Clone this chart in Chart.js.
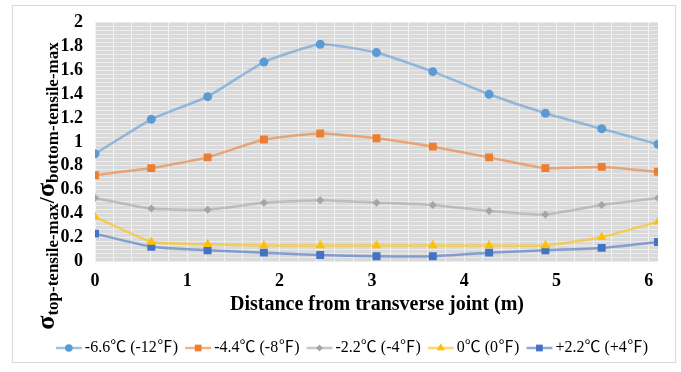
<!DOCTYPE html>
<html>
<head>
<meta charset="utf-8">
<script src="https://cdn.jsdelivr.net/npm/chart.js@4/dist/chart.umd.min.js"></script>
<style>
  html, body { margin: 0; padding: 0; background: #fff; }
  #stress-chart { display: block; }
</style>
</head>
<body>
<canvas id="stress-chart" width="681" height="372"></canvas>
<script>
// distance from the joint, m (2 ft steps)
const distances = [0, 0.61, 1.22, 1.83, 2.44, 3.05, 3.66, 4.27, 4.88, 5.49, 6.1];

const seriesNames = ['-6.6℃ (-12℉)', '-4.4℃ (-8℉)', '-2.2℃ (-4℉)', '0℃ (0℉)', '+2.2℃ (+4℉)'];

const minus66 = [0.90, 1.19, 1.38, 1.67, 1.82, 1.75, 1.59, 1.40, 1.24, 1.11, 0.98];
const minus44 = [0.72, 0.78, 0.87, 1.02, 1.07, 1.03, 0.96, 0.87, 0.78, 0.79, 0.75];
const minus22 = [0.53, 0.44, 0.43, 0.49, 0.51, 0.49, 0.47, 0.42, 0.39, 0.47, 0.53];
const zeroC = [0.37, 0.16, 0.14, 0.13, 0.13, 0.13, 0.13, 0.13, 0.13, 0.20, 0.33];
const plus22 = [0.23, 0.12, 0.09, 0.07, 0.05, 0.04, 0.04, 0.07, 0.09, 0.11, 0.16];

const xTickLabels = ['0', '1', '2', '3', '4', '5', '6'];
const yTickLabels = ['0', '0.2', '0.4', '0.6', '0.8', '1', '1.2', '1.4', '1.6', '1.8', '2'];

const serif = '"Liberation Serif", "Times New Roman", "Noto Sans CJK SC", serif';

const styles = [
  { line: 'rgba(91,155,213,0.6)', fill: '#5B9BD5', point: 'circle', r: 4.5 },
  { line: 'rgba(237,125,49,0.6)', fill: '#ED7D31', point: 'rect', r: 5.6 },
  { line: 'rgba(165,165,165,0.6)', fill: '#A5A5A5', point: 'rectRot', r: 4 },
  { line: 'rgba(255,192,0,0.6)', fill: '#FFC000', point: 'triangle', r: 5.5 },
  { line: 'rgba(68,114,196,0.6)', fill: '#4472C4', point: 'rect', r: 5.6 },
];
const seriesValues = [minus66, minus44, minus22, zeroC, plus22];

const datasets = seriesValues.map((vals, i) => ({
  label: seriesNames[i],
  data: vals.map((v, k) => ({ x: distances[k], y: v })),
  borderColor: styles[i].line,
  backgroundColor: styles[i].fill,
  pointBackgroundColor: styles[i].fill,
  pointBorderColor: styles[i].fill,
  pointBorderWidth: 0,
  pointStyle: styles[i].point,
  pointRadius: styles[i].r,
  borderWidth: 2.5,
  tension: 0.15,
}));

// grid steps
const xGrid = [];
for (let k = 0; k <= 30; k++) xGrid.push(Math.round(k * 0.2 * 100) / 100);
const yGrid = [];
for (let k = 0; k <= 60; k++) yGrid.push(k / 30);

const frame = {
  id: 'frame',
  beforeDraw(chart) {
    const ctx = chart.ctx;
    const a = chart.chartArea;
    ctx.save();
    ctx.fillStyle = '#fff';
    ctx.fillRect(0, 0, chart.width, chart.height);
    ctx.strokeStyle = '#d9d9d9';
    ctx.lineWidth = 1;
    ctx.strokeRect(12.5, 5.5, 663, 357);
    ctx.fillStyle = '#d9d9d9';
    ctx.fillRect(a.left, a.top, a.right - a.left, a.bottom - a.top);
    ctx.restore();
  },
  afterDraw(chart) {
    const ctx = chart.ctx;
    ctx.save();

    // x title
    ctx.fillStyle = '#000';
    ctx.font = 'bold 20px ' + serif;
    ctx.textAlign = 'center';
    ctx.textBaseline = 'middle';
    ctx.fillText('Distance from transverse joint (m)', 377, 305);

    // y title with subscripts
    const parts = [
      { t: 'σ', f: 'bold 26px ' + serif, dy: 0 },
      { t: 'top-tensile-max', f: 'bold 17px ' + serif, dy: 4 },
      { t: '/', f: 'bold 22px ' + serif, dy: 0 },
      { t: 'σ', f: 'bold 26px ' + serif, dy: 0 },
      { t: 'bottom-tensile-max', f: 'bold 17px ' + serif, dy: 4 },
    ];
    let total = 0;
    parts.forEach(p => { ctx.font = p.f; p.w = ctx.measureText(p.t).width; total += p.w; });
    ctx.translate(54, 186);
    ctx.rotate(-Math.PI / 2);
    ctx.textAlign = 'left';
    ctx.textBaseline = 'alphabetic';
    let px = -total / 2;
    parts.forEach(p => { ctx.font = p.f; ctx.fillText(p.t, px, p.dy); px += p.w; });
    ctx.setTransform(1, 0, 0, 1, 0, 0);

    // legend
    ctx.font = '16px ' + serif;
    const lineLen = 26, gap = 3, itemGap = 7;
    const widths = seriesNames.map(n => ctx.measureText(n).width);
    let w = 0;
    widths.forEach(tw => { w += lineLen + gap + tw + itemGap; });
    w -= itemGap;
    let lx = 352 - w / 2;
    const ly = 348;
    seriesNames.forEach((name, i) => {
      ctx.strokeStyle = styles[i].line;
      ctx.lineWidth = 2.5;
      ctx.beginPath();
      ctx.moveTo(lx, ly);
      ctx.lineTo(lx + lineLen, ly);
      ctx.stroke();
      ctx.fillStyle = styles[i].fill;
      ctx.strokeStyle = styles[i].fill;
      Chart.helpers.drawPoint(ctx, { pointStyle: styles[i].point, radius: styles[i].r * 0.85, rotation: 0, borderWidth: 0 }, lx + lineLen / 2, ly);
      ctx.fillStyle = '#000';
      ctx.textAlign = 'left';
      ctx.textBaseline = 'middle';
      ctx.fillText(name, lx + lineLen + gap, ly);
      lx += lineLen + gap + widths[i] + itemGap;
    });
    ctx.restore();
  }
};

new Chart(document.getElementById('stress-chart'), {
  type: 'line',
  data: { datasets },
  options: {
    responsive: false,
    animation: false,
    devicePixelRatio: 1,
    layout: { padding: { left: 0, right: 23, top: 22, bottom: 0 } },
    plugins: {
      legend: { display: false },
      tooltip: { enabled: false },
    },
    scales: {
      x: {
        type: 'linear',
        min: 0,
        max: 6.1,
        afterBuildTicks: (scale) => { scale.ticks = xGrid.map(v => ({ value: v })); },
        afterFit: (scale) => { scale.height = 111; },
        grid: { color: '#f4f4f4', lineWidth: 1, drawTicks: false },
        border: { display: false },
        ticks: {
          autoSkip: false,
          maxRotation: 0,
          padding: 10,
          color: '#000',
          font: { family: serif, size: 18, weight: 'bold' },
          callback: (v) => {
            const i = xTickLabels.indexOf(String(Math.round(v * 100) / 100));
            return i >= 0 ? xTickLabels[i] : '';
          },
        },
      },
      y: {
        min: 0,
        max: 2,
        afterBuildTicks: (scale) => { scale.ticks = yGrid.map(v => ({ value: v })); },
        afterFit: (scale) => { scale.width = 95; },
        grid: { color: '#ebebeb', lineWidth: 1, drawTicks: false },
        border: { display: false },
        ticks: {
          autoSkip: false,
          padding: 12,
          color: '#000',
          font: { family: serif, size: 18, weight: 'bold' },
          callback: (v) => {
            const i = yTickLabels.indexOf(String(Math.round(v * 100) / 100));
            return i >= 0 ? yTickLabels[i] : '';
          },
        },
      },
    },
  },
  plugins: [frame],
});
</script>
</body>
</html>
